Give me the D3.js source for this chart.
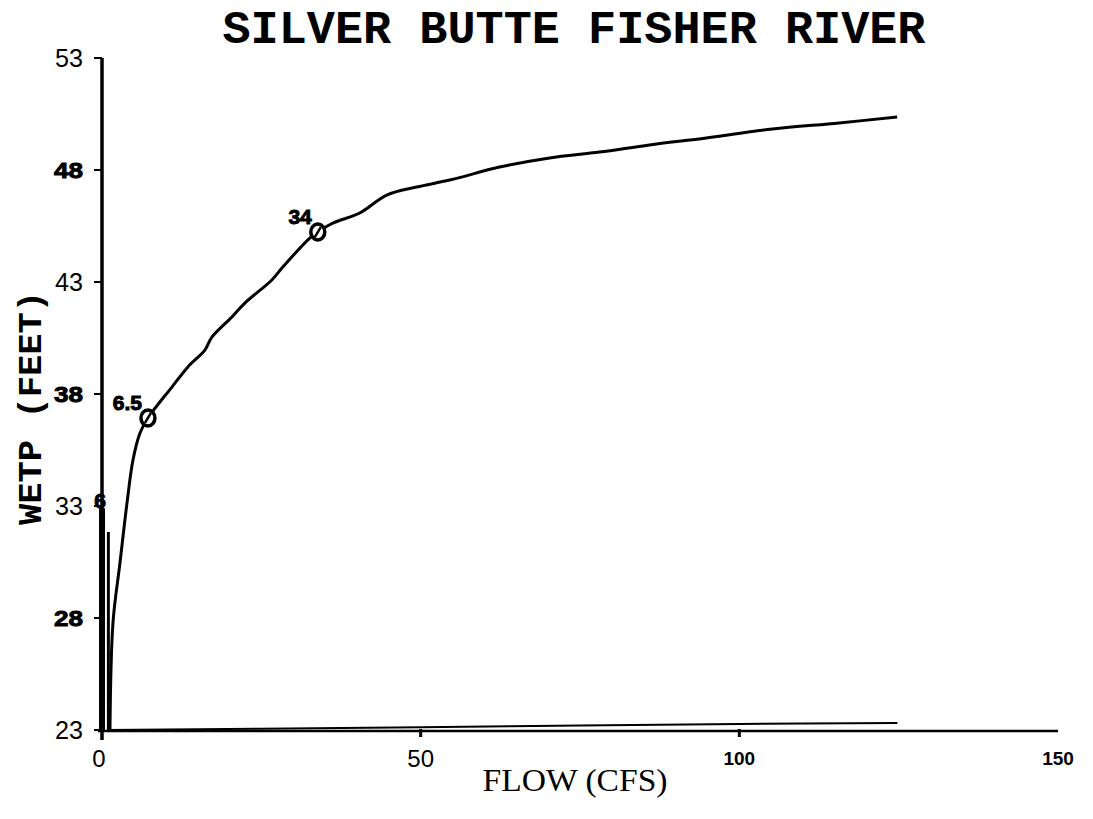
<!DOCTYPE html>
<html><head><meta charset="utf-8">
<script src="https://cdn.jsdelivr.net/npm/d3@7"></script>
<style>body{margin:0;background:#fff}svg{display:block}</style>
</head><body>
<svg id="c" width="1093" height="819"></svg>
<script>
// data
const flowMain = [1.25,1.72,2.82,3.92,4.86,5.96,7.21,10.97,13.48,16.14,17.24,20.38,22.41,26.65,28.37,32.60,33.86,36.21,40.44,44.67,49.37,54.55,62.38,70.22,78.06,85.89,94.83,105.17,115.67,124.76];
const wetpMain = [23.0,27.78,30.46,33.13,35.05,36.26,36.93,38.31,39.21,39.96,40.54,41.44,42.06,43.09,43.67,44.96,45.23,45.63,46.08,46.88,47.24,47.55,48.13,48.54,48.80,49.12,49.43,49.83,50.10,50.37];
const flowLow = [0.8,25,50,75,100,124.8];
const wetpLow = [23.0,23.06,23.12,23.2,23.27,23.31];
const markFlow = [7.21,33.86];
const markWetp = [36.93,45.23];
const markLabels = ["6.5","34"];
const zeroFlow = [0,0];
const zeroWetp = [23,32.9];
const thinFlow = [1.0,1.0];
const thinWetp = [23,31.84];
const sixLabel = {flow:0, wetp:33.27, text:"6"};
const yTicks = [23,28,33,38,43,48,53];
const yBold = [28,38,48];
const xTicks = [0,50,100,150];
const title = "SILVER BUTTE FISHER RIVER";
const xTitle = "FLOW (CFS)";
const yTitle = "WETP (FEET)";

const svg = d3.select("#c");
const x = d3.scaleLinear().domain([0,150]).range([102,1058]);
const y = d3.scaleLinear().domain([23,53]).range([730,58]);

// title
svg.append("text").attr("x",574).attr("y",43).attr("text-anchor","middle")
  .attr("font-family","Liberation Mono, Courier New, monospace").attr("font-weight","bold")
  .attr("font-size",46).attr("textLength",703).attr("lengthAdjust","spacingAndGlyphs").text(title);

// x axis
svg.append("line").attr("x1",98).attr("x2",1058).attr("y1",731).attr("y2",731)
  .attr("stroke","#000").attr("stroke-width",2.5);
[50,100].forEach(v=>{
  svg.append("line").attr("x1",x(v)).attr("x2",x(v)).attr("y1",729).attr("y2",737)
    .attr("stroke","#000").attr("stroke-width",3);
});
xTicks.forEach(v=>{
  const big = v<100;
  svg.append("text").attr("x",x(v)-(v===0?3:0)).attr("y",big?767:765).attr("text-anchor","middle")
    .attr("font-family","Liberation Sans, Arial, sans-serif")
    .attr("font-size",big?24:19).attr("font-weight",big?"normal":"bold").text(v);
});
svg.append("text").attr("x",575).attr("y",791).attr("text-anchor","middle")
  .attr("font-family","Liberation Serif, Times New Roman, serif")
  .attr("font-size",32).attr("textLength",185).attr("lengthAdjust","spacingAndGlyphs").text(xTitle);

// y axis
svg.append("line").attr("x1",x(0)).attr("x2",x(0)).attr("y1",y(53)).attr("y2",740)
  .attr("stroke","#000").attr("stroke-width",3.5);
yTicks.forEach(v=>{
  const b = yBold.includes(v);
  svg.append("line").attr("x1",x(0)-8).attr("x2",x(0)).attr("y1",y(v)).attr("y2",y(v))
    .attr("stroke","#000").attr("stroke-width",2);
  svg.append("text").attr("x",83).attr("y",y(v)).attr("dy","0.36em").attr("text-anchor","end")
    .attr("font-family","Liberation Sans, Arial, sans-serif")
    .attr("font-size",b?22:25).attr("font-weight",b?"900":"normal")
    .attr("textLength",b?29:28).attr("lengthAdjust","spacingAndGlyphs")
    .attr("stroke",b?"#000":"none").attr("stroke-width",b?0.9:0).text(v);
});
svg.append("text").attr("transform","translate(41,408) rotate(-90)").attr("text-anchor","middle")
  .attr("font-family","Liberation Mono, Courier New, monospace").attr("font-weight","bold")
  .attr("font-size",34).attr("textLength",234).attr("lengthAdjust","spacingAndGlyphs").text(yTitle);

// zero thick line & thin line
const ln = d3.line().x(d=>x(d[0])).y(d=>y(d[1]));
svg.append("path").attr("d",ln(zeroFlow.map((f,i)=>[f,zeroWetp[i]])))
  .attr("stroke","#000").attr("stroke-width",6).attr("fill","none");
svg.append("path").attr("d",ln(thinFlow.map((f,i)=>[f,thinWetp[i]])))
  .attr("stroke","#000").attr("stroke-width",3).attr("fill","none");

// curves
const lc = d3.line().x(d=>x(d[0])).y(d=>y(d[1])).curve(d3.curveCatmullRom.alpha(0.5));
svg.append("path").attr("d",lc(flowMain.map((f,i)=>[f,wetpMain[i]])))
  .attr("stroke","#000").attr("stroke-width",3).attr("fill","none").attr("stroke-linejoin","round");
svg.append("path").attr("d",lc(flowLow.map((f,i)=>[f,wetpLow[i]])))
  .attr("stroke","#000").attr("stroke-width",2).attr("fill","none");

// markers
markFlow.forEach((f,i)=>{
  const cx=x(f), cy=y(markWetp[i]);
  svg.append("ellipse").attr("cx",cx).attr("cy",cy).attr("rx",7).attr("ry",8)
    .attr("fill","#fff").attr("stroke","#000").attr("stroke-width",3.5);
  svg.append("line").attr("x1",cx-3).attr("y1",cy+5).attr("x2",cx+3).attr("y2",cy-5)
    .attr("stroke","#000").attr("stroke-width",2.5);
  svg.append("text").attr("x",cx-6).attr("y",cy-8).attr("text-anchor","end")
    .attr("font-family","Liberation Sans, Arial, sans-serif").attr("font-weight","900")
    .attr("font-size",21).attr("stroke","#000").attr("stroke-width",1).text(markLabels[i]);
});
svg.append("text").attr("x",x(sixLabel.flow)-2).attr("y",y(sixLabel.wetp)).attr("dy","0.36em")
  .attr("text-anchor","middle").attr("font-family","Liberation Sans, Arial, sans-serif")
  .attr("font-weight","900").attr("font-size",21).attr("stroke","#000").attr("stroke-width",1)
  .text(sixLabel.text);
</script>
</body></html>
